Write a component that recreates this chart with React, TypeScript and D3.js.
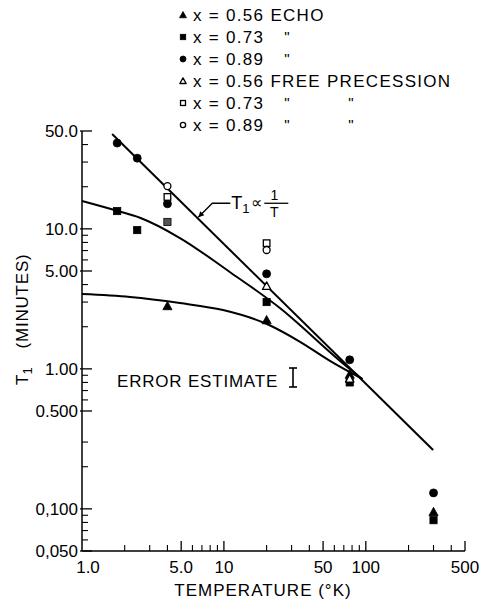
import React from "react";
import * as d3 from "d3";

// T1 (minutes) versus temperature (K)
const echo056: [number, number][] = [[4.0, 2.81], [20, 2.23], [77, 0.91], [300, 0.095]];
const echo073: [number, number][] = [[1.77, 13.4], [2.45, 9.8], [4.0, 11.2], [20, 3.0], [77, 0.8], [300, 0.083]];
const echo089: [number, number][] = [[1.77, 41], [2.45, 32], [4.0, 15.1], [20, 4.77], [77, 1.16], [300, 0.13]];
const fp056: [number, number][] = [[20, 3.9], [77, 0.85]];
const fp073: [number, number][] = [[4.0, 16.9], [20, 7.9]];
const fp089: [number, number][] = [[4.0, 20.2], [20, 7.06]];

// drawn curves
const fitInvT: [number, number][] = [[1.63, 47.6], [298, 0.263]];
const fit073: [number, number][] = [[1, 15.8], [1.79, 13.4], [2.56, 12.0], [4.9, 8.6], [11.0, 4.92], [24.8, 2.72], [65.8, 1.14], [95, 0.84]];
const fit056: [number, number][] = [[1, 3.42], [2.18, 3.26], [4.9, 2.95], [9.86, 2.63], [20.1, 2.09], [34.4, 1.56], [55.9, 1.14], [94, 0.85]];

const yMajor = [50, 10, 5, 1, 0.5, 0.1, 0.05];
const yMajorLabels = ["50.0", "10.0", "5.00", "1.00", "0.500", "0,100", "0,050"];
const yMinor = [40, 30, 20, 9, 8, 7, 6, 4, 3, 2, 0.9, 0.8, 0.7, 0.6, 0.3, 0.2, 0.09, 0.08, 0.07, 0.06];
const xMajor = [1, 5, 10, 50, 100, 500];
const xMajorLabels = ["1.0", "5.0", "10", "50", "100", "500"];
const xMinor = [2, 3, 4, 6, 7, 8, 9, 20, 30, 40, 60, 70, 80, 90, 200, 300, 400];

const legendLabels = ["x = 0.56 ECHO", "x = 0.73", "x = 0.89", "x = 0.56 FREE PRECESSION", "x = 0.73", "x = 0.89"];
const legendDitto = [[], [1], [1], [], [1, 2], [1, 2]];

const annoAnchor: [number, number] = [6.6, 12.1];

const FONT = "'Liberation Sans', Arial, sans-serif";

type Shape = "tri" | "sq" | "circ";

function Marker({ shape, filled, cx, cy, s = 1, fill }: { shape: Shape; filled: boolean; cx: number; cy: number; s?: number; fill?: string }) {
  const f = filled ? fill || "#000" : "#fff";
  const sw = filled ? 0.8 : 1.3;
  if (shape === "circ") {
    const r = (filled ? 4 : 3.5) * s;
    return <circle cx={cx} cy={cy} r={r} fill={f} stroke="#000" strokeWidth={sw} />;
  }
  if (shape === "sq") {
    const h = (filled ? 3.6 : 3.3) * s;
    return <rect x={cx - h} y={cy - h} width={2 * h} height={2 * h} fill={f} stroke="#000" strokeWidth={sw} />;
  }
  const a = (filled ? 4.6 : 4.2) * s;
  const pts = `${cx},${cy - a} ${cx - a},${cy + a * 0.8} ${cx + a},${cy + a * 0.8}`;
  return <polygon points={pts} fill={f} stroke="#000" strokeWidth={sw} strokeLinejoin="round" />;
}

export default function App() {
  const W = 489, H = 602;
  const x = d3.scaleLog().domain([1, 500]).range([82, 465]);
  const y = d3.scaleLog().domain([0.05, 50]).range([551, 131]);
  const x0 = x(1), yb = y(0.05);

  const line = d3.line<[number, number]>()
    .x(d => x(d[0]))
    .y(d => y(d[1]))
    .curve(d3.curveMonotoneX);

  const series: { data: [number, number][]; shape: Shape; filled: boolean }[] = [
    { data: echo056, shape: "tri", filled: true },
    { data: echo073, shape: "sq", filled: true },
    { data: echo089, shape: "circ", filled: true },
    { data: fp056, shape: "tri", filled: false },
    { data: fp073, shape: "sq", filled: false },
    { data: fp089, shape: "circ", filled: false },
  ];

  const ax = x(annoAnchor[0]), ay = y(annoAnchor[1]);

  return (
    <svg width={W} height={H} style={{ position: "absolute", left: 0, top: 0, background: "#fff" }} fontFamily={FONT}>
      <rect width={W} height={H} fill="#fff" />

      {/* legend */}
      {legendLabels.map((lab, i) => {
        const ly = 15 + i * 22;
        const s = series[i];
        return (
          <g key={i}>
            <Marker shape={s.shape} filled={s.filled} cx={183} cy={ly} s={0.75} />
            <text x={193} y={ly + 6} fontSize={17} letterSpacing={1.3}>{lab}</text>
            {legendDitto[i].map(k => (
              <text key={k} x={k === 1 ? 287 : 351} y={ly + 5} fontSize={15} textAnchor="middle">"</text>
            ))}
          </g>
        );
      })}

      {/* axes */}
      <line x1={x0} x2={x0} y1={y(50)} y2={yb} stroke="#000" strokeWidth={1.5} />
      <line x1={x0} x2={x(500)} y1={yb} y2={yb} stroke="#000" strokeWidth={1.5} />
      {yMajor.map((v, i) => (
        <g key={"ym" + v}>
          <line x1={x0 - 2} x2={x0 + 10} y1={y(v)} y2={y(v)} stroke="#000" strokeWidth={1.3} />
          <text x={x0 - 4} y={y(v) + 6} fontSize={17} textAnchor="end">{yMajorLabels[i]}</text>
        </g>
      ))}
      {yMinor.map(v => (
        <line key={"yn" + v} x1={x0} x2={x0 + 6} y1={y(v)} y2={y(v)} stroke="#000" strokeWidth={1.1} />
      ))}
      {xMajor.map((v, i) => (
        <g key={"xm" + v}>
          {v !== 1 && <line x1={x(v)} x2={x(v)} y1={yb} y2={yb - 10} stroke="#000" strokeWidth={1.3} />}
          <text x={x(v) + (v === 1 ? 6 : 0)} y={yb + 22} fontSize={17} textAnchor="middle">{xMajorLabels[i]}</text>
        </g>
      ))}
      {xMinor.map(v => (
        <line key={"xn" + v} x1={x(v)} x2={x(v)} y1={yb} y2={yb - 6} stroke="#000" strokeWidth={1.1} />
      ))}

      <text x={263} y={596} fontSize={17} textAnchor="middle" letterSpacing={1}>TEMPERATURE (°K)</text>
      <g transform={`translate(28, 319) rotate(-90)`}>
        <text x={-66} y={0} fontSize={17}>T<tspan fontSize={13} dy={4}>1</tspan></text>
        <text x={18} y={0} fontSize={17} textAnchor="middle" letterSpacing={0.8}>(MINUTES)</text>
      </g>

      {/* curves */}
      {[fitInvT, fit073, fit056].map((d, i) => (
        <path key={"c" + i} d={line(d) || ""} fill="none" stroke="#000" strokeWidth={2} />
      ))}

      {/* points */}
      {series.map((s, si) =>
        s.data.map((d, j) => (
          <Marker key={si + "-" + j} shape={s.shape} filled={s.filled} cx={x(d[0])} cy={y(d[1])}
            fill={si === 1 && d[0] === 4.0 ? "#555" : undefined} />
        ))
      )}

      {/* annotation T1 ∝ 1/T */}
      <path d={`M${ax},${ay} L${ax + 14},${ay - 14} L${ax + 32},${ay - 14}`} fill="none" stroke="#000" strokeWidth={1.3} />
      <polygon points={`${ax},${ay} ${ax + 2},${ay - 6} ${ax + 6},${ay - 2}`} fill="#000" />
      <text x={ax + 33} y={ay - 8} fontSize={18}>T<tspan fontSize={13} dy={4}>1</tspan></text>
      <text x={ax + 53} y={ay - 9} fontSize={16}>∝</text>
      <text x={ax + 76} y={ay - 17} fontSize={14} textAnchor="middle">1</text>
      <line x1={ax + 66} x2={ax + 90} y1={ay - 14} y2={ay - 14} stroke="#000" strokeWidth={1.3} />
      <text x={ax + 76} y={ay} fontSize={14} textAnchor="middle">T</text>

      {/* error estimate */}
      <text x={117} y={387} fontSize={17} letterSpacing={0.8}>ERROR ESTIMATE</text>
      <g stroke="#000" strokeWidth={1.6}>
        <line x1={293} x2={293} y1={368} y2={387} />
        <line x1={289} x2={297} y1={368} y2={368} />
        <line x1={289} x2={297} y1={387} y2={387} />
      </g>
    </svg>
  );
}
